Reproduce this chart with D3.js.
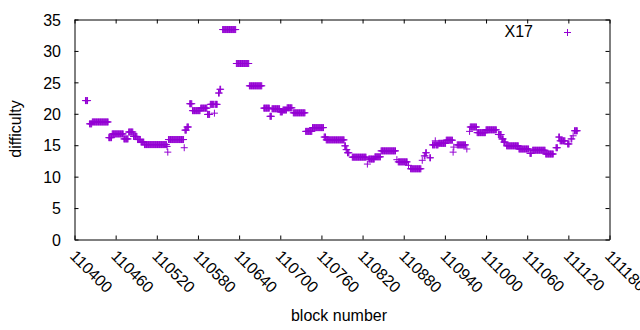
<!DOCTYPE html>
<html>
<head>
<meta charset="utf-8">
<script src="https://cdn.jsdelivr.net/npm/d3@7"></script>
<style>
  html, body { margin: 0; padding: 0; background: #fff; }
  svg { display: block; font-family: "Liberation Sans", Arial, sans-serif; }
</style>
</head>
<body>
<svg id="chart" width="640" height="330"></svg>
<script>
// ---- data (runs of constant difficulty: first block, last block, difficulty) ----
const seriesName = "X17";
const runStart = [110416,110422,110426,110450,110455,110472,110479,110486,110492,110497,
  110502,110535,110536,110537,110560,110561,110564,110568,110572,110584,
  110594,110598,110604,110605,110610,110612,110616,110636,110655,110676,
  110685,110688,110700,110704,110710,110719,110737,110747,110764,110767,
  110794,110796,110798,110805,110827,110829,110838,110847,110870,110872,
  110887,110890,110907,110910,110912,110918,110922,110926,110927,110931,
  110942,110952,110953,110958,110972,110976,110977,110987,111000,111018,
  111023,111026,111030,111048,111064,111068,111087,111102,111106,111108,
  111119,111124,111127,111129];
const runEnd = [110419,110425,110449,110454,110471,110478,110485,110491,110496,110501,
  110534,110535,110536,110559,110560,110563,110566,110571,110583,110593,
  110597,110603,110604,110608,110611,110613,110635,110654,110673,110684,
  110687,110699,110703,110709,110717,110736,110746,110763,110766,110793,
  110795,110797,110800,110825,110827,110837,110846,110868,110870,110885,
  110887,110905,110907,110911,110913,110919,110925,110926,110930,110941,
  110951,110952,110953,110970,110972,110976,110986,110999,111015,111022,
  111025,111028,111047,111062,111066,111086,111098,111104,111107,111115,
  111121,111125,111127,111133];
const runValue = [22.1,18.4,18.7,16.2,16.8,16.0,17.1,16.4,15.9,15.5,
  15.1,14.8,13.9,15.9,14.6,17.4,17.9,21.6,20.5,20.9,
  19.9,21.5,20.1,21.5,23.3,23.9,33.4,28.0,24.45,20.9,
  19.6,20.8,20.3,20.6,20.95,20.15,17.2,17.8,16.3,15.85,
  14.9,14.3,13.8,13.1,12.0,12.8,13.15,14.1,12.7,12.35,
  11.8,11.25,12.6,13.3,13.8,13.0,15.05,15.7,15.05,15.3,
  15.8,13.9,14.7,15.05,14.4,17.2,17.9,17.0,17.45,16.7,
  16.0,15.5,14.9,14.4,13.7,14.2,13.6,14.6,16.3,15.7,
  15.2,16.0,16.5,17.3];
const xTicks = [110400,110460,110520,110580,110640,110700,110760,110820,110880,110940,111000,111060,111120,111180];
const yTicks = [0,5,10,15,20,25,30,35];
const xTitle = "block number";
const yTitle = "difficulty";

// one point per block
const points = [];
runStart.forEach((s, i) => {
  for (let b = s; b <= runEnd[i]; b++) points.push({block: b, diff: runValue[i]});
});

// ---- layout ----
const L = 74.5, R = 609.5, T = 19.5, B = 239.5;
const color = "#9400d3";
const svg = d3.select("#chart");
const x = d3.scaleLinear().domain([110400, 111180]).range([L, R]);
const y = d3.scaleLinear().domain([0, 35]).range([B, T]);

const fontSize = 16;
function styleAxis(g) {
  g.selectAll("path.domain").attr("stroke", "#000").attr("stroke-width", 1);
  g.selectAll(".tick line").attr("stroke", "#000").attr("stroke-width", 1);
  g.selectAll("text").attr("font-size", fontSize).attr("fill", "#000")
    .attr("font-family", '"Liberation Sans", Arial, sans-serif');
}

// bottom axis with rotated labels
const gx = svg.append("g").attr("transform", `translate(0,${B})`)
  .call(d3.axisBottom(x).tickValues(xTicks).tickFormat(d3.format("d")).tickSize(-4).tickSizeOuter(0));
styleAxis(gx);
gx.selectAll(".tick text")
  .attr("y", 0).attr("dy", 0).attr("x", 0)
  .attr("text-anchor", "start")
  .attr("transform", "translate(-6,17.5) rotate(45)");

// top axis (ticks only)
const gt = svg.append("g").attr("transform", `translate(0,${T})`)
  .call(d3.axisTop(x).tickValues(xTicks).tickFormat("").tickSize(-4).tickSizeOuter(0));
styleAxis(gt);

// left axis
const gy = svg.append("g").attr("transform", `translate(${L},0)`)
  .call(d3.axisLeft(y).tickValues(yTicks).tickFormat(d3.format("d")).tickSize(-4).tickSizeOuter(0).tickPadding(13.5));
styleAxis(gy);
gy.selectAll(".tick text").attr("dy", "0.36em");

// right axis (ticks only)
const gr = svg.append("g").attr("transform", `translate(${R},0)`)
  .call(d3.axisRight(y).tickValues(yTicks).tickFormat("").tickSize(-4).tickSizeOuter(0));
styleAxis(gr);

// points as "+" markers
const h = 3.5;
svg.append("g").selectAll("path").data(points).join("path")
  .attr("d", d => {
    const cx = x(d.block), cy = y(d.diff);
    return `M${cx - h},${cy}H${cx + h}M${cx},${cy - h}V${cy + h}`;
  })
  .attr("fill", "none").attr("stroke", color).attr("stroke-width", 1);

// legend
svg.append("text").attr("x", 533).attr("y", 37.3).attr("text-anchor", "end")
  .attr("font-size", fontSize).attr("fill", "#000").text(seriesName);
svg.append("path")
  .attr("d", `M${567.5 - h},32.5H${567.5 + h}M567.5,${32.5 - h}V${32.5 + h}`)
  .attr("stroke", color).attr("stroke-width", 1).attr("fill", "none");

// axis titles
svg.append("text").attr("x", 339).attr("y", 321).attr("text-anchor", "middle")
  .attr("font-size", fontSize).attr("fill", "#000").text(xTitle);
svg.append("text").attr("transform", "translate(21,129) rotate(-90)").attr("text-anchor", "middle")
  .attr("font-size", fontSize).attr("fill", "#000").text(yTitle);
</script>
</body>
</html>
